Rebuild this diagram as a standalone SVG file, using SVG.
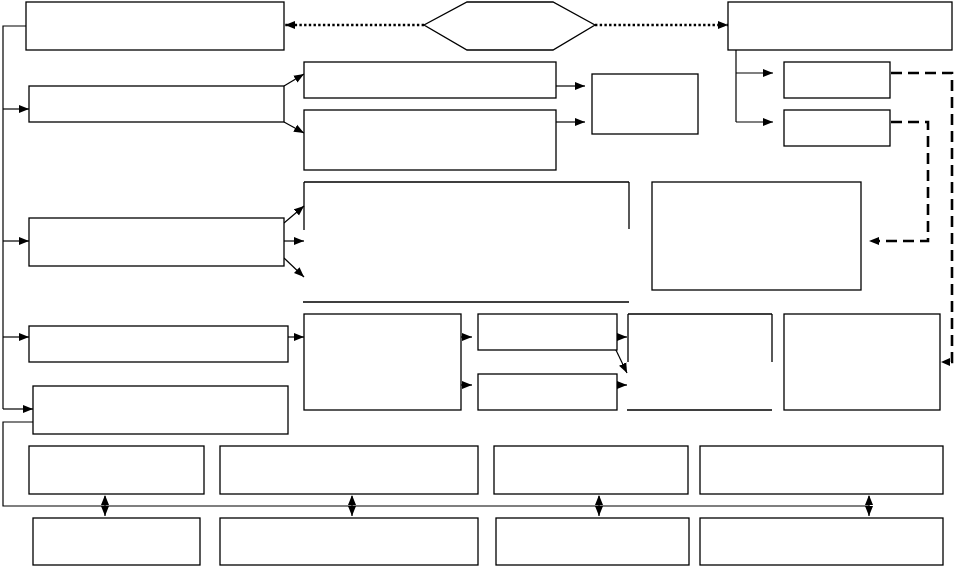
<svg xmlns="http://www.w3.org/2000/svg" width="955" height="566" viewBox="0 0 955 566">
<defs>
<marker id="ah" markerUnits="userSpaceOnUse" markerWidth="11" markerHeight="9" refX="10" refY="4.5" orient="auto">
<path d="M0,0.5 L10,4.5 L0,8.5 z" fill="#000"/>
</marker>
<marker id="ahs" markerUnits="userSpaceOnUse" markerWidth="11" markerHeight="9" refX="1" refY="4.5" orient="auto">
<path d="M10,0.5 L0,4.5 L10,8.5 z" fill="#000"/>
</marker>
</defs>
<style>
.box{fill:#fff;stroke:#000;stroke-width:1.3}
.ln{fill:none;stroke:#000;stroke-width:1.3}
.c{fill:none;stroke:#000;stroke-width:1.2}
.a{marker-end:url(#ah)}
.dot{fill:none;stroke:#000;stroke-width:2.6;stroke-dasharray:2.4 2.3}
.dash{fill:none;stroke:#000;stroke-width:2.6;stroke-dasharray:11 6}
</style>
<rect width="955" height="566" fill="#fff"/>
<g id="connectors">
<polyline class="c" points="26,26 3,26 3,409"/>
<line class="c a" x1="3" y1="109" x2="29" y2="109"/>
<line class="c a" x1="3" y1="241" x2="29" y2="241"/>
<line class="c a" x1="3" y1="337" x2="29" y2="337"/>
<line class="c a" x1="3" y1="409" x2="33" y2="409"/>
<polyline class="c" points="33,422 3,422 3,506 869,506"/>
<line class="dot a" x1="424" y1="25" x2="285" y2="25"/>
<line class="dot a" x1="595" y1="25" x2="728" y2="25"/>
<line class="c a" x1="284" y1="86" x2="304" y2="74"/>
<line class="c a" x1="284" y1="122" x2="304" y2="133"/>
<line class="c a" x1="556" y1="86" x2="585" y2="86"/>
<line class="c a" x1="556" y1="122" x2="585" y2="122"/>
<polyline class="c" points="736,50 736,122"/>
<line class="c a" x1="736" y1="73" x2="773" y2="73"/>
<line class="c a" x1="736" y1="122" x2="773" y2="122"/>
<polyline class="dash" points="891,73 952,73 952,362 948,362"/>
<path d="M950,358 L941,362 L950,366 z" fill="#000"/>
<polyline class="dash" points="891,122 928,122 928,241 876,241"/>
<path d="M879,237 L869,241 L879,245 z" fill="#000"/>
<line class="c a" x1="284" y1="223" x2="304" y2="206"/>
<line class="c a" x1="284" y1="241" x2="304" y2="241"/>
<line class="c a" x1="284" y1="258" x2="304" y2="277" stroke-width="0.8"/>
<line class="c a" x1="288" y1="337" x2="304" y2="337"/>
<line class="c a" x1="461" y1="337" x2="472" y2="337"/>
<line class="c a" x1="461" y1="385" x2="472" y2="385"/>
<line class="c a" x1="617" y1="337" x2="627" y2="337"/>
<line class="c a" x1="615" y1="348" x2="627" y2="373"/>
<line class="c a" x1="617" y1="385" x2="627" y2="385"/>
<line class="c" x1="105" y1="496" x2="105" y2="516" marker-start="url(#ahs)" marker-end="url(#ah)"/>
<line class="c" x1="352" y1="496" x2="352" y2="516" marker-start="url(#ahs)" marker-end="url(#ah)"/>
<line class="c" x1="599" y1="496" x2="599" y2="516" marker-start="url(#ahs)" marker-end="url(#ah)"/>
<line class="c" x1="869" y1="496" x2="869" y2="516" marker-start="url(#ahs)" marker-end="url(#ah)"/>
</g>
<g id="hex"><polygon class="box" points="467,2 553,2 595,25 553,50 467,50 424,25"/></g>
<g id="boxA"><rect class="box" x="26" y="2" width="258" height="48"/></g>
<g id="boxF"><rect class="box" x="728" y="2" width="224" height="48"/></g>
<g id="boxB"><rect class="box" x="29" y="86" width="255" height="36"/></g>
<g id="boxC"><rect class="box" x="304" y="62" width="252" height="36"/></g>
<g id="boxD"><rect class="box" x="304" y="110" width="252" height="60"/></g>
<g id="boxE"><rect class="box" x="592" y="74" width="106" height="60"/></g>
<g id="boxG"><rect class="box" x="784" y="62" width="106" height="36"/></g>
<g id="boxH"><rect class="box" x="784" y="110" width="106" height="36"/></g>
<g id="boxI"><path class="ln" d="M304,182 H629 M304,182 V230 M629,182 V229 M303,302 H629"/></g>
<g id="boxK"><rect class="box" x="652" y="182" width="209" height="108"/></g>
<g id="boxJ"><rect class="box" x="29" y="218" width="255" height="48"/></g>
<g id="boxL"><rect class="box" x="29" y="326" width="259" height="36"/></g>
<g id="boxM"><rect class="box" x="33" y="386" width="255" height="48"/></g>
<g id="boxN"><rect class="box" x="304" y="314" width="157" height="96"/></g>
<g id="boxO"><rect class="box" x="478" y="314" width="139" height="36"/></g>
<g id="boxP"><rect class="box" x="478" y="374" width="139" height="36"/></g>
<g id="boxQ"><path class="ln" d="M628,314 H772 M628,314 V362 M772,314 V362 M627,410 H772"/></g>
<g id="boxR"><rect class="box" x="784" y="314" width="156" height="96"/></g>
<g id="boxS1"><rect class="box" x="29" y="446" width="175" height="48"/></g>
<g id="boxS2"><rect class="box" x="220" y="446" width="258" height="48"/></g>
<g id="boxS3"><rect class="box" x="494" y="446" width="194" height="48"/></g>
<g id="boxS4"><rect class="box" x="700" y="446" width="243" height="48"/></g>
<g id="boxT1"><rect class="box" x="33" y="518" width="167" height="47"/></g>
<g id="boxT2"><rect class="box" x="220" y="518" width="258" height="47"/></g>
<g id="boxT3"><rect class="box" x="496" y="518" width="193" height="47"/></g>
<g id="boxT4"><rect class="box" x="700" y="518" width="243" height="47"/></g>
</svg>
